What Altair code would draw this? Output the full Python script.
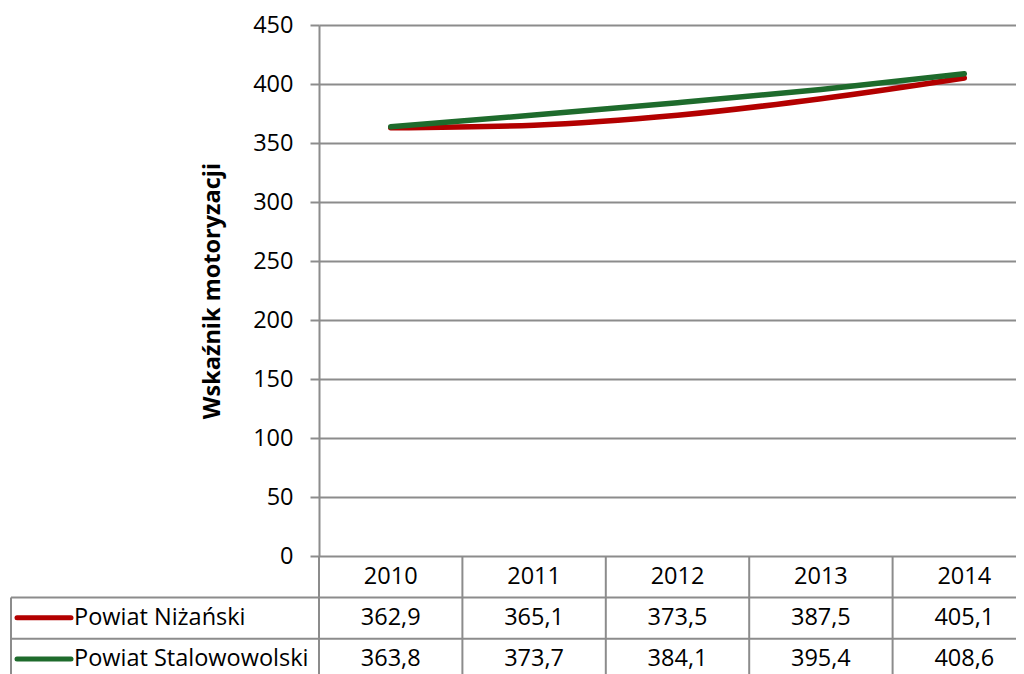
import altair as alt
import pandas as pd

# ---- data ----
years = [2010, 2011, 2012, 2013, 2014]
series_names = ["Powiat Niżański", "Powiat Stalowowolski"]
nizanski = [362.9, 365.1, 373.5, 387.5, 405.1]
stalowowolski = [363.8, 373.7, 384.1, 395.4, 408.6]
series_values = [nizanski, stalowowolski]
series_colors = ["#B30000", "#1E6B2C"]
y_ticks = [0, 50, 100, 150, 200, 250, 300, 350, 400, 450]
y_title = "Wskaźnik motoryzacji"

# ---- layout (pixels) ----
PLOT_W = 697
PLOT_H = 531
COL_W = 143.4
PX_PER_UNIT = PLOT_H / 450.0
ROW_H = 41.4 / PX_PER_UNIT  # table row height in y units
GRAY = "#8C8C8C"
FONT = "Open Sans"
FS = 23.5

x_dom = [years[0] - 0.5, years[0] - 0.5 + PLOT_W / COL_W]
x_scale = alt.Scale(domain=x_dom, nice=False, zero=False)
y_scale = alt.Scale(domain=[0, 450], nice=False, zero=False)

# line data
rows = []
for name, vals in zip(series_names, series_values):
    for yr, v in zip(years, vals):
        rows.append({"year": yr, "series": name, "value": v})
lines_df = pd.DataFrame(rows)

# table text data
hdr_df = pd.DataFrame({"year": years, "label": [str(y) for y in years],
                       "ty": [-ROW_H / 2] * len(years)})
cell_rows = []
for i, (name, vals) in enumerate(zip(series_names, series_values)):
    for yr, v in zip(years, vals):
        cell_rows.append({"year": yr, "label": f"{v:.1f}".replace(".", ","),
                          "ty": -ROW_H * (i + 1.5) + 0.4, "series": name})
cells_df = pd.DataFrame(cell_rows)

leg_df = pd.DataFrame({"series": series_names,
                       "ty": [-ROW_H * (i + 1.5) + 0.4 for i in range(len(series_names))]})

# table rules
vsep_df = pd.DataFrame({"xs": [y - 0.5 for y in years],
                        "y1": [0] * len(years), "y2": [-ROW_H * 3.2] * len(years)})
hsep_df = pd.DataFrame({"ys": [-ROW_H, -ROW_H * 2]})
lborder_df = pd.DataFrame({"y1": [-ROW_H], "y2": [-ROW_H * 3.2]})

base_y = alt.Y("value:Q", scale=y_scale, axis=alt.Axis(
    values=y_ticks, grid=True, gridColor=GRAY, gridWidth=2,
    tickColor=GRAY, tickWidth=2, tickSize=9,
    domainColor=GRAY, domainWidth=2,
    labelFont=FONT, labelFontSize=FS, labelColor="black", labelPadding=17,
    title=y_title, titleFont=FONT, titleFontSize=FS, titleFontWeight="bold",
    titleColor="black", titleAngle=-90, titleX=-107, titleY=PLOT_H / 2,
    titleAlign="center", titleBaseline="middle"))

line_layers = []
for name, col in zip(series_names, series_colors):
    line_layers.append(
        alt.Chart(lines_df[lines_df.series == name]).mark_line(
            color=col, strokeWidth=5.5, strokeCap="round", interpolate="monotone"
        ).encode(
            x=alt.X("year:Q", scale=x_scale, axis=None),
            y=base_y,
        )
    )

vsep = alt.Chart(vsep_df).mark_rule(color=GRAY, strokeWidth=2).encode(
    x=alt.X("xs:Q", scale=x_scale, axis=None),
    y=alt.Y("y1:Q", scale=y_scale), y2="y2:Q")

hsep = alt.Chart(hsep_df).mark_rule(color=GRAY, strokeWidth=2).encode(
    x=alt.value(-308), x2=alt.value(PLOT_W + 40),
    y=alt.Y("ys:Q", scale=y_scale))

lborder = alt.Chart(lborder_df).mark_rule(color=GRAY, strokeWidth=2).encode(
    x=alt.value(-308),
    y=alt.Y("y1:Q", scale=y_scale), y2="y2:Q")

hdr_text = alt.Chart(hdr_df).mark_text(
    font=FONT, fontSize=FS, color="black", baseline="middle", align="center"
).encode(x=alt.X("year:Q", scale=x_scale, axis=None),
         y=alt.Y("ty:Q", scale=y_scale), text="label:N")

cell_text = alt.Chart(cells_df).mark_text(
    font=FONT, fontSize=FS, color="black", baseline="middle", align="center"
).encode(x=alt.X("year:Q", scale=x_scale, axis=None),
         y=alt.Y("ty:Q", scale=y_scale), text="label:N")

leg_line = alt.Chart(leg_df).mark_rule(strokeWidth=5, strokeCap="round").encode(
    x=alt.value(-302), x2=alt.value(-248),
    y=alt.Y("ty:Q", scale=y_scale),
    color=alt.Color("series:N", scale=alt.Scale(domain=series_names, range=series_colors),
                    legend=None))

leg_text = alt.Chart(leg_df).mark_text(
    font=FONT, fontSize=FS, color="black", baseline="middle", align="left"
).encode(x=alt.value(-245), y=alt.Y("ty:Q", scale=y_scale), text="series:N")

chart = alt.layer(
    *line_layers, vsep, hsep, lborder, hdr_text, cell_text, leg_line, leg_text
).properties(
    width=PLOT_W, height=PLOT_H,
    autosize=alt.AutoSizeParams(type="none"),
    padding={"left": 311, "top": 17, "right": 0, "bottom": 118},
).configure_view(stroke=None)

chart.save("out.html", embed_options={"renderer": "svg", "actions": False})
